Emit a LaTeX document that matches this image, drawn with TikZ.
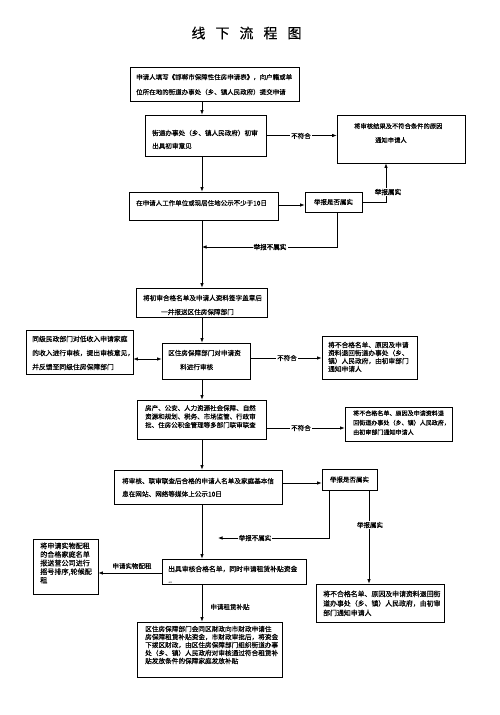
\documentclass[tikz,border=0pt]{standalone}
\usepackage{fontspec}
\setmainfont{Noto Sans CJK SC}
\newfontfamily\tx{Noto Sans CJK SC}[FakeBold=0.3]
\newfontfamily\bd{Noto Sans CJK SC}[FakeBold=1.2]
\usetikzlibrary{arrows.meta,shadows}
\tikzset{
  box/.style={draw, line width=0.8pt, fill=white, inner sep=0pt,
    drop shadow={shadow xshift=1pt, shadow yshift=-1pt, fill=black!55, opacity=1},
    font=\tx\fontsize{6.5}{8}\selectfont},
  arr/.style={line width=0.7pt, -{Latex[length=4.5pt,width=3.5pt]}},
  arrb/.style={line width=0.7pt, {Latex[length=4.5pt,width=3.5pt]}-{Latex[length=4.5pt,width=3.5pt]}},
  ln/.style={line width=0.7pt},
  lbl/.style={fill=white, inner sep=1pt, font=\tx\fontsize{6.5}{7}\selectfont},
  lblb/.style={fill=white, inner sep=1pt, font=\bd\fontsize{6.6}{7}\selectfont},
  txt/.style={inner sep=0pt, anchor=base west, text width=230pt, align=left},
}
\newcommand\mybox[6]{\node[box, minimum width={(#4-#2)*1pt}, minimum height={(#5-#3)*1pt}] (#1) at ({(#2+#4)/2},{(#3+#5)/2}) {#6};}
\newcommand\mytxt[6]{\node[txt, font={\tx\fontsize{#4}{#5}\selectfont}] (#1) at (#2,{#3+2.5}) {#6};}
\lineskiplimit=-9pt
\begin{document}
\lineskiplimit=-9pt\relax
\begin{tikzpicture}[x=1pt,y=-1pt]
\useasboundingbox (0,0) rectangle (500,715);
\fill[white] (0,0) rectangle (500,715);

\node[font=\tx\fontsize{14}{16}\selectfont] (title) at (246.5,33)
  {线\hspace{10pt}下\hspace{10pt}流\hspace{10pt}程\hspace{10pt}图};

% boxes
\mybox{b1}{130}{67}{299}{101}{}
\mybox{b2}{145}{115}{266}{156}{}
\mybox{b3}{337}{115}{465}{163}{}
\mybox{b4}{129}{192}{278}{220}{}
\mybox{b5}{305}{192}{362}{212}{举报是否属实}
\mybox{b6}{136}{288}{267}{317}{}
\mybox{l1}{26}{330}{133}{374}{}
\mybox{b7}{162}{343}{250}{379}{}
\mybox{b8}{322}{336}{417}{379}{}
\mybox{b9}{137}{400}{266}{439}{}
\mybox{b10}{345}{407}{452}{441}{}
\mybox{b11}{114}{470}{282}{504}{}
\mybox{b12}{322}{469}{377}{490}{举报是否属实}
\mybox{l2}{33}{539}{98}{594}{}
\mybox{b13}{162}{559}{306}{584}{}
\mybox{b14}{316}{584}{444}{622}{}
\mybox{b15}{137}{622}{282}{677}{}

% texts
\mytxt{t1}{136}{77}{6.5}{15}{申请人填写《邯郸市保障性住房申请表》，向户籍或单\\位所在地的街道办事处（乡、镇人民政府）提交申请}
\mytxt{t2}{152}{133}{6.6}{13}{街道办事处（乡、镇人民政府）初审\\出具初审意见}
\mytxt{t3}{354}{126}{6.3}{14}{将审核结果及不符合条件的原因\\\hspace*{21pt}通知申请人}
\mytxt{t4}{136}{203}{6.5}{13}{在申请人工作单位或现居住地公示不少于10日}
\mytxt{t6}{143}{298}{6.6}{14}{将初审合格名单及申请人资料签字盖章后\\\hspace*{18pt}一并报送区住房保障部门}
\mytxt{tl1}{32}{339}{6.8}{14}{同级民政部门对低收入申请家庭\\的收入进行审核，提出审核意见，\\并反馈至同级住房保障部门}
\mytxt{t7}{168}{353}{6.6}{14}{区住房保障部门对申请资\\\hspace*{12pt}料进行审核}
\mytxt{t8}{328}{345}{6.7}{8}{将不合格名单、原因及申请\\资料退回街道办事处（乡、\\镇）人民政府，由初审部门\\通知申请人}
\mytxt{t9}{145}{408}{6.5}{8.5}{房产、公安、人力资源社会保障、自然\\资源和规划、税务、市场监管、行政审\\批、住房公积金管理等多部门联审联查}
\mytxt{t10}{353}{413}{6.05}{9.5}{将不合格名单、原因及申请资料退\\回街道办事处（乡、镇）人民政府，\\由初审部门通知申请人}
\mytxt{t11}{122}{481}{6.6}{13}{将审核、联审联查后合格的申请人名单及家庭基本信\\息在网站、网络等媒体上公示10日}
\mytxt{tl2}{40}{546}{7.1}{8.6}{将申请实物配租\\的合格家庭名单\\报送营公司进行\\摇号排序,轮候配\\租}
\mytxt{t13}{168}{569}{6.8}{11}{出具审核合格名单，同时申请租赁补贴资金\\..}
\mytxt{t14}{323}{594}{6.9}{9.5}{将不合格名单、原因及申请资料退回街\\道办事处（乡、镇）人民政府，由初审\\部门通知申请人}
\mytxt{t15}{145}{629}{6.65}{8}{区住房保障部门会同区财政向市财政申请住\\房保障租赁补贴资金，市财政审批后，将资金\\下拨区财政，由区住房保障部门组织街道办事\\处（乡、镇）人民政府对审核通过符合租赁补\\贴发放条件的保障家庭发放补贴}

% helper coordinates
\coordinate (mx) at (202,0);
\coordinate (r1) at (386,0);
\coordinate (d1) at (337,247);
\coordinate (y1) at (0,359);
\coordinate (y2) at (0,358);
\coordinate (y3) at (0,428);
\coordinate (y4) at (0,483);
\coordinate (y5) at (0,573);
\coordinate (y6) at (0,205);
\coordinate (d2) at (329,538);
\coordinate (e2) at (218,538);
\coordinate (r2) at (369,0);

% main vertical flow
\draw[arr] (b1.south -| mx) -- (b2.north -| mx);
\draw[arr] (b2.south -| mx) -- (b4.north -| mx);
\draw[arr] (b4.south -| mx) -- (b6.north -| mx);
\draw[arr] (b6.south -| mx) -- (b7.north -| mx);
\draw[arr] (b7.south -| mx) -- (b9.north -| mx);
\draw[arr] (b9.south -| mx) -- (b11.north -| mx);
\draw[arr] (b11.south -| mx) -- (b13.north -| mx);
\draw[arr] (b13.south -| mx) -- (b15.north -| mx);

% side connectors
\draw[arr] (b2.east) -- (b2.east -| b3.west);
\draw[arr] (b4.east |- y6) -- (b5.west |- y6);
\draw[arr] (b5.east) -| (r1 |- b3.south);
\draw[arr] (b5.south -| d1) -- (d1) -- (d1 -| mx);
\draw[arrb] (l1.east |- y1) -- (b7.west |- y1);
\draw[arr] (b7.east |- y2) -- (b8.west |- y2);
\draw[arr] (b9.east |- y3) -- (b10.west |- y3);
\draw[arr] (b11.east |- y4) -- (b12.west |- y4);
\draw[arr] (b12.south -| d2) -- (d2) -- (e2);
\draw[arr] (b12.south -| r2) -- (b14.north -| r2);
\draw[arr] (b13.west |- y5) -- (l2.east |- y5);

% labels
\node[lbl] (n1) at (301,136) {不符合};
\node[lblb] (n2) at (388,192) {举报属实};
\node[lblb] (n3) at (270,247) {举报不属实};
\node[lbl] (n4) at (287,358) {不符合};
\node[lbl] (n5) at (301,428) {不符合};
\node[lbl] (n6) at (255,538) {举报不属实};
\node[lbl] (n7) at (370,525) {举报属实};
\node[lbl, fill=none] (n8) at (132,566) {申请实物配租};
\node[lbl, fill=none] (n9) at (230,607) {申请租赁补贴};
\end{tikzpicture}
\end{document}
